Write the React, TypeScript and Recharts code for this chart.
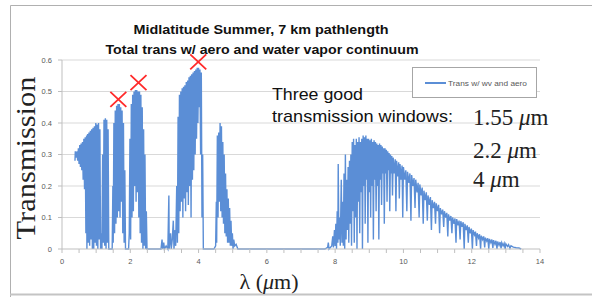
import { ComposedChart, Line, Scatter, XAxis, YAxis, ReferenceLine } from "recharts"

// [wavelength µm, transmission], one array per window
const visibleBand: [number, number][] = [
  [0.38, 0.28], [0.39, 0.31], [0.42, 0.29], [0.44, 0.31], [0.46, 0.28], [0.48, 0.32],
  [0.5, 0.27], [0.52, 0.33], [0.54, 0.26], [0.56, 0.335], [0.58, 0.25], [0.6, 0.34],
  [0.62, 0.22], [0.64, 0.35], [0.66, 0.19], [0.68, 0.355], [0.7, 0.05], [0.72, 0.36],
  [0.73, 0], [0.75, 0.365], [0.77, 0.02], [0.79, 0.37], [0.81, 0.01], [0.83, 0.375],
  [0.85, 0.03], [0.87, 0.38], [0.89, 0], [0.91, 0.385], [0.93, 0], [0.95, 0.39],
  [0.97, 0.02], [0.99, 0.4], [1.01, 0.01], [1.03, 0.395], [1.05, 0], [1.07, 0.4],
  [1.09, 0.03], [1.11, 0.38], [1.13, 0], [1.15, 0.05], [1.17, 0], [1.19, 0.3],
  [1.21, 0.02], [1.23, 0.41], [1.25, 0.01], [1.27, 0.415], [1.29, 0], [1.31, 0.41],
  [1.33, 0.02], [1.35, 0.38], [1.37, 0], [1.45, 0],
]

const window155: [number, number][] = [
  [1.47, 0], [1.49, 0.2], [1.5, 0.02], [1.52, 0.4], [1.54, 0.05], [1.56, 0.44],
  [1.58, 0.08], [1.6, 0.455], [1.62, 0.1], [1.64, 0.46], [1.66, 0.12], [1.68, 0.46],
  [1.7, 0.1], [1.72, 0.45], [1.74, 0.15], [1.76, 0.44], [1.78, 0.05], [1.8, 0.4],
  [1.82, 0.02], [1.84, 0.25], [1.86, 0], [1.95, 0],
]

const window22: [number, number][] = [
  [1.97, 0.05], [1.99, 0.35], [2.01, 0.03], [2.03, 0.46], [2.05, 0.1], [2.07, 0.49],
  [2.09, 0.12], [2.11, 0.5], [2.13, 0.2], [2.15, 0.505], [2.17, 0.15], [2.19, 0.505],
  [2.21, 0.18], [2.23, 0.5], [2.25, 0.1], [2.27, 0.5], [2.29, 0.05], [2.31, 0.49],
  [2.33, 0.02], [2.35, 0.45], [2.37, 0], [2.39, 0.38], [2.41, 0.01], [2.43, 0.3],
  [2.45, 0], [2.47, 0.12], [2.49, 0], [2.9, 0],
]

const window4: [number, number][] = [
  [2.93, 0.03], [2.95, 0], [2.98, 0.02], [3.0, 0], [3.05, 0.01], [3.1, 0],
  [3.13, 0.17], [3.14, 0], [3.18, 0.05], [3.2, 0], [3.23, 0.03], [3.26, 0.09],
  [3.28, 0], [3.31, 0.06], [3.33, 0.01], [3.36, 0.2], [3.38, 0.02], [3.4, 0.42],
  [3.42, 0.05], [3.44, 0.49], [3.46, 0.12], [3.48, 0.5], [3.5, 0.15], [3.52, 0.51],
  [3.54, 0.1], [3.56, 0.515], [3.58, 0.16], [3.6, 0.52], [3.62, 0.12], [3.64, 0.53],
  [3.66, 0.18], [3.68, 0.535], [3.7, 0.14], [3.72, 0.545], [3.74, 0.2], [3.76, 0.55],
  [3.78, 0.1], [3.8, 0.555], [3.82, 0.22], [3.84, 0.56], [3.86, 0.25], [3.88, 0.565],
  [3.9, 0.3], [3.92, 0.57], [3.94, 0.35], [3.96, 0.575], [3.98, 0.4], [4.0, 0.575],
  [4.02, 0.45], [4.04, 0.57], [4.06, 0.3], [4.08, 0.56], [4.1, 0.1], [4.12, 0.3],
  [4.14, 0], [4.45, 0],
]

const band47: [number, number][] = [
  [4.5, 0.01], [4.52, 0.15], [4.53, 0.02], [4.55, 0.36], [4.57, 0.1], [4.59, 0.37],
  [4.61, 0.15], [4.63, 0.4], [4.65, 0.12], [4.67, 0.39], [4.69, 0.1], [4.71, 0.34],
  [4.73, 0.08], [4.75, 0.3], [4.77, 0.05], [4.79, 0.24], [4.81, 0.04], [4.83, 0.19],
  [4.85, 0.02], [4.87, 0.16], [4.89, 0.02], [4.91, 0.13], [4.93, 0.01], [4.95, 0.09],
  [4.97, 0.01], [4.99, 0.05], [5.01, 0], [5.03, 0.03], [5.06, 0.01], [5.1, 0.015],
  [5.15, 0], [7.7, 0],
]

const thermalBand: [number, number][] = [
  [7.78, 0.005], [7.8, 0.02], [7.82, 0], [7.9, 0.01], [7.93, 0.04], [7.95, 0.005],
  [7.98, 0.06], [8.0, 0.01], [8.02, 0.08], [8.04, 0], [8.06, 0.12], [8.08, 0.02],
  [8.09, 0.27], [8.11, 0.03], [8.13, 0.1], [8.15, 0.01], [8.18, 0.22], [8.2, 0.02],
  [8.22, 0.15], [8.24, 0.01], [8.26, 0.24], [8.28, 0], [8.3, 0.3], [8.32, 0.03],
  [8.34, 0.22], [8.36, 0.06], [8.38, 0.26], [8.4, 0.02], [8.42, 0.28], [8.44, 0.08],
  [8.46, 0.3], [8.48, 0.01], [8.5, 0.34], [8.52, 0.12], [8.54, 0.35], [8.56, 0.02],
  [8.58, 0.33], [8.6, 0.1], [8.62, 0.35], [8.64, 0], [8.66, 0.34], [8.68, 0.15],
  [8.7, 0.355], [8.72, 0.05], [8.74, 0.34], [8.76, 0.18], [8.78, 0.35], [8.8, 0],
  [8.82, 0.36], [8.84, 0.2], [8.86, 0.355], [8.88, 0.08], [8.9, 0.36], [8.92, 0.22],
  [8.94, 0.35], [8.96, 0.02], [8.98, 0.35], [9.0, 0.18], [9.02, 0.345], [9.04, 0.1],
  [9.06, 0.35], [9.08, 0.2], [9.1, 0.34], [9.12, 0.03], [9.14, 0.345], [9.16, 0.22],
  [9.18, 0.34], [9.2, 0.12], [9.22, 0.335], [9.24, 0.2], [9.26, 0.33], [9.28, 0.03],
  [9.3, 0.335], [9.32, 0.22], [9.34, 0.33], [9.36, 0.14], [9.38, 0.325], [9.4, 0.24],
  [9.42, 0.32], [9.44, 0.08], [9.46, 0.32], [9.48, 0.24], [9.5, 0.315], [9.52, 0.15],
  [9.54, 0.31], [9.56, 0.25], [9.58, 0.305], [9.6, 0.12], [9.62, 0.3], [9.64, 0.24],
  [9.66, 0.295], [9.68, 0.17], [9.7, 0.29], [9.73, 0.24], [9.76, 0.285], [9.78, 0.12],
  [9.8, 0.28], [9.83, 0.23], [9.86, 0.275], [9.88, 0.16], [9.9, 0.27], [9.93, 0.22],
  [9.96, 0.265], [9.98, 0.1], [10.0, 0.26], [10.04, 0.22], [10.07, 0.25], [10.1, 0.12],
  [10.12, 0.245], [10.16, 0.21], [10.19, 0.24], [10.22, 0.09], [10.24, 0.235], [10.28, 0.2],
  [10.31, 0.225], [10.34, 0.13], [10.36, 0.22], [10.4, 0.18], [10.43, 0.21], [10.46, 0.1],
  [10.48, 0.205], [10.52, 0.17], [10.55, 0.195], [10.58, 0.08], [10.6, 0.185], [10.64, 0.155],
  [10.67, 0.18], [10.7, 0.09], [10.72, 0.17], [10.76, 0.14], [10.79, 0.165], [10.82, 0.06],
  [10.84, 0.155], [10.88, 0.13], [10.91, 0.15], [10.94, 0.08], [10.96, 0.145], [11.0, 0.12],
  [11.03, 0.14], [11.06, 0.05], [11.08, 0.13], [11.12, 0.11], [11.15, 0.125], [11.18, 0.07],
  [11.2, 0.12], [11.24, 0.1], [11.27, 0.115], [11.3, 0.04], [11.32, 0.11], [11.36, 0.09],
  [11.39, 0.105], [11.42, 0.05], [11.44, 0.1], [11.48, 0.08], [11.51, 0.097], [11.54, 0.02],
  [11.56, 0.095], [11.6, 0.075], [11.63, 0.09], [11.66, 0.03], [11.68, 0.088], [11.72, 0.07],
  [11.75, 0.085], [11.78, 0], [11.8, 0.08], [11.84, 0.06], [11.87, 0.075], [11.9, 0.02],
  [11.92, 0.07], [11.96, 0.05], [11.99, 0.065], [12.02, 0], [12.04, 0.06], [12.08, 0.045],
  [12.11, 0.055], [12.14, 0.01], [12.16, 0.05], [12.2, 0.035], [12.23, 0.047], [12.26, 0],
  [12.28, 0.042], [12.32, 0.03], [12.35, 0.04], [12.38, 0.005], [12.4, 0.036], [12.44, 0.025],
  [12.47, 0.034], [12.5, 0], [12.52, 0.032], [12.56, 0.02], [12.59, 0.03], [12.62, 0.003],
  [12.64, 0.028], [12.68, 0.015], [12.71, 0.026], [12.74, 0], [12.76, 0.024], [12.8, 0.012],
  [12.83, 0.022], [12.86, 0.002], [12.88, 0.02], [12.92, 0.01], [12.95, 0.018], [12.98, 0],
  [13.0, 0.016], [13.05, 0.008], [13.08, 0.014], [13.12, 0.002], [13.15, 0.01], [13.22, 0.006],
  [13.3, 0.004], [13.38, 0.003], [13.45, 0],
]

// the three marked windows
const windowMarks = [
  { x: 1.65, t: 0.475 },
  { x: 2.24, t: 0.528 },
  { x: 3.99, t: 0.594 },
]

const xTicks = [
  0, 0.5, 1, 1.5, 2, 2.5, 3, 3.5, 4, 4.5, 5, 5.5, 6, 6.5, 7, 7.5, 8, 8.5, 9, 9.5, 10,
  10.5, 11, 11.5, 12, 12.5, 13, 13.5, 14,
]
const yTicks = [0, 0.1, 0.2, 0.3, 0.4, 0.5, 0.6]
const gridLines = [0.1, 0.2, 0.3, 0.4, 0.5, 0.6]

const spectrum = [
  ...visibleBand,
  ...window155,
  ...window22,
  ...window4,
  ...band47,
  ...thermalBand,
].map(([x, t]) => ({ x, t }))

const BLUE = "#5b8ed6"
const tickStyle = { fontSize: 7.5, fill: "#595959", fontFamily: "Liberation Sans" }

function Cross(props: any) {
  const { cx, cy } = props
  return (
    <path
      d={`M${cx - 8},${cy - 7.5}L${cx + 8},${cy + 7.5}M${cx - 8},${cy + 7.5}L${cx + 8},${cy - 7.5}`}
      stroke="#ff2a2a"
      strokeWidth={1.8}
      fill="none"
    />
  )
}

export default function App() {
  return (
    <div style={{ position: "absolute", left: 0, top: 0, width: 592, height: 297, background: "#fff" }}>
      <ComposedChart
        width={592}
        height={297}
        data={spectrum}
        margin={{ top: 60, right: 52, bottom: 0, left: 0 }}
      >
        {gridLines.map((v) => (
          <ReferenceLine key={v} y={v} stroke="#d9d9d9" strokeWidth={1} ifOverflow="extendDomain" />
        ))}
        <XAxis
          dataKey="x"
          type="number"
          domain={[0, 14]}
          ticks={xTicks}
          interval={0}
          tickFormatter={(v: number) => (v % 2 === 0 ? String(v) : "")}
          height={48}
          stroke="#bfbfbf"
          tickSize={4}
          tickMargin={6}
          tick={tickStyle}
        />
        <YAxis
          type="number"
          domain={[0, 0.6]}
          ticks={yTicks}
          interval={0}
          width={62}
          stroke="#bfbfbf"
          tickSize={4}
          tickMargin={6}
          tick={tickStyle}
        />
        <Line
          dataKey="t"
          type="linear"
          stroke={BLUE}
          strokeWidth={1.4}
          dot={false}
          isAnimationActive={false}
        />
        <Scatter data={windowMarks} dataKey="t" shape={Cross} isAnimationActive={false} />
      </ComposedChart>

      <svg
        width={592}
        height={297}
        style={{ position: "absolute", left: 0, top: 0, pointerEvents: "none" }}
      >
        <path d="M10.5,297 L10.5,5.5 L600,5.5" stroke="#b0b0b0" fill="none" />
        <line x1={10} y1={294.5} x2={600} y2={294.5} stroke="#c4c4c4" strokeWidth={2} />

        <text x={261} y={34} textAnchor="middle" fontFamily="Liberation Sans" fontWeight="bold" fontSize={13} textLength={255} lengthAdjust="spacingAndGlyphs" fill="#111">
          Midlatitude Summer, 7 km pathlength
        </text>
        <text x={262} y={54} textAnchor="middle" fontFamily="Liberation Sans" fontWeight="bold" fontSize={13} textLength={313} lengthAdjust="spacingAndGlyphs" fill="#111">
          Total trans w/ aero and water vapor continuum
        </text>

        <rect x={412.5} y={67.5} width={124} height={30} fill="#fff" stroke="#a6a6a6" />
        <line x1={425} y1={83} x2={446} y2={83} stroke={BLUE} strokeWidth={2} />
        <text x={448} y={85.5} fontFamily="Liberation Sans" fontSize={7} fill="#595959" textLength={79} lengthAdjust="spacingAndGlyphs">
          Trans w/ wv and aero
        </text>

        <text x={272} y={100} fontFamily="Liberation Sans" fontSize={17} fill="#111" textLength={91} lengthAdjust="spacingAndGlyphs">
          Three good
        </text>
        <text x={272} y={122} fontFamily="Liberation Sans" fontSize={17} fill="#111" textLength={181} lengthAdjust="spacingAndGlyphs">
          transmission windows:
        </text>

        <text x={473} y={125} fontFamily="Liberation Serif" fontSize={23} fill="#222">
          1.55 <tspan fontStyle="italic">μ</tspan>m
        </text>
        <text x={473} y={158} fontFamily="Liberation Serif" fontSize={23} fill="#222">
          2.2 <tspan fontStyle="italic">μ</tspan>m
        </text>
        <text x={473} y={187} fontFamily="Liberation Serif" fontSize={23} fill="#222">
          4 <tspan fontStyle="italic">μ</tspan>m
        </text>

        <text
          x={0}
          y={0}
          transform="translate(35,158) rotate(-90)"
          textAnchor="middle"
          fontFamily="Liberation Serif"
          fontSize={27}
          fill="#222"
          textLength={163}
          lengthAdjust="spacingAndGlyphs"
        >
          Transmission
        </text>
        <text x={269} y={289} textAnchor="middle" fontFamily="Liberation Serif" fontSize={22} fill="#222">
          λ (<tspan fontStyle="italic">μ</tspan>m)
        </text>
      </svg>
    </div>
  )
}
